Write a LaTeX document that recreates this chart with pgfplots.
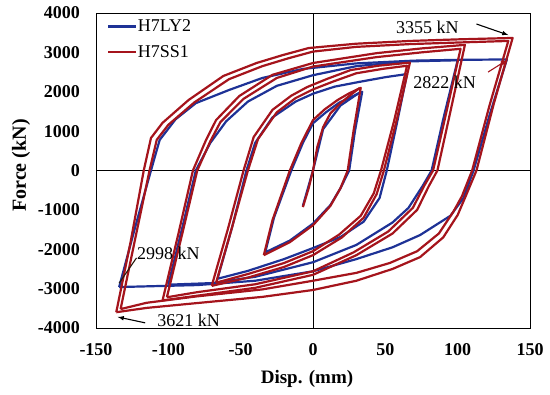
\documentclass[border=0pt]{standalone}
\usepackage{pgfplots}
\pgfplotsset{compat=1.18}
\usepackage{fontspec}
\setmainfont{Liberation Serif}
\definecolor{cblue}{RGB}{30,50,150}
\definecolor{cred}{RGB}{165,20,28}
\newcommand{\fs}{\fontsize{18}{20}\selectfont}
\begin{document}
\begin{tikzpicture}
\begin{axis}[name=ax,
  scale only axis, width=434pt, height=315pt,
  xmin=-150, xmax=150, ymin=-4000, ymax=4000,
  xtick={-150,-100,-50,0,50,100,150},
  xticklabels={-150,-100,-50,0,50,100,150},
  ytick={-4000,-3000,-2000,-1000,0,1000,2000,3000,4000},
  yticklabels={-4000,-3000,-2000,-1000,0,1000,2000,3000,4000},
  major tick length=0pt,
  axis line style={black, line width=0.9pt},
  tick label style={font=\fs\bfseries, inner sep=0pt},
  xticklabel style={anchor=north, yshift=-15pt},
  yticklabel style={anchor=east, xshift=-16pt},
  xlabel={Disp. (mm)}, ylabel={Force (kN)},
  xlabel style={font=\fontsize{19}{21}\selectfont\bfseries, at={([xshift=-6pt,yshift=-56pt]axis description cs:0.5,0)}, anchor=base},
  ylabel style={font=\fontsize{20}{22}\selectfont\bfseries, at={([xshift=-70pt,yshift=5pt]axis description cs:0,0.5)}, anchor=base},
  clip=false,
  legend style={draw=none, fill=none, at={(rel axis cs:0,1)}, anchor=north west,
    xshift=11pt, yshift=-6pt, font=\fs, inner sep=0pt, row sep=11pt,
    nodes={inner sep=0.5pt}},
  legend cell align=left,
  legend image code/.code={\draw[#1] (0pt,0pt) -- (28pt,0pt);},
  every axis plot/.append style={line join=round},
]
\draw[black, line width=0.9pt] (axis cs:-150,0) -- (axis cs:150,0);
\draw[black, line width=0.9pt] (axis cs:0,-4000) -- (axis cs:0,4000);

% H7LY2 (blue)
\addplot[cblue, line width=2.2pt] coordinates {
(-134,-2960) (-123,-1450) (-112,0) (-106,775) (-95,1300) (-81,1710) (-58,2045) (-35,2350) (-7,2580) (30,2720) (70,2790) (100,2810) (134,2820)
(122,1400) (111,0) (104,-700) (95,-1150) (74,-1640) (55,-1950) (30,-2250) (0,-2560) (-40,-2800) (-80,-2910) (-134,-2960)};
\addlegendentry{H7LY2}
% H7SS1 (red)
\addplot[cred, line width=2.2pt] coordinates {
(-136,-3600) (-126,-1800) (-117,0) (-112,825) (-104,1210) (-86,1790) (-62,2400) (-39,2730) (-21,2930) (-3,3110) (30,3220) (67,3290) (100,3330) (138,3366)
(125,1700) (113,0) (105,-700) (100,-1130) (90,-1700) (74,-2200) (55,-2500) (30,-2800) (0,-3035) (-35,-3210) (-81,-3370) (-115,-3490) (-136,-3600)};
\addlegendentry{H7SS1}

\addplot[cblue, line width=2.2pt, forget plot] coordinates {
(-7,-900) (0,0) (7,1050) (19,1650) (33,2000)};
\addplot[cblue, line width=2.2pt, forget plot] coordinates {
(-33,-2080) (-27,-1200) (-15,0) (-7,700) (0,1200) (9,1480) (18,1720) (34,2000)
(29,1000) (25,0) (19,-450) (12,-880) (0,-1350) (-16,-1780) (-33,-2080)};
\addplot[cblue, line width=2.2pt, forget plot] coordinates {
(-66,-2750) (-56,-1450) (-46,0) (-40,700) (-28,1350) (-12,1750) (0,1950) (15,2130) (32,2250) (50,2370) (65,2450)
(58,1200) (51,0) (46,-700) (35,-1300) (19,-1690) (0,-1970) (-20,-2250) (-45,-2550) (-66,-2750)};
\addplot[cblue, line width=2.2pt, forget plot] coordinates {
(-100,-2900) (-90,-1400) (-81,0) (-71,700) (-60,1250) (-45,1750) (-25,2150) (0,2420) (30,2650) (65,2770) (100,2800)
(90,1300) (82,0) (76,-380) (66,-950) (55,-1320) (30,-1890) (0,-2330) (-40,-2700) (-70,-2860) (-100,-2900)};

\addplot[cred, line width=2.2pt, forget plot] coordinates {
(-7,-930) (-3,-450) (0,0) (3,600) (7,1100) (12,1450) (19,1710) (26,1920) (32,2090)};
\addplot[cred, line width=2.2pt, forget plot] coordinates {
(-34,-2150) (-28,-1260) (-16,0) (-8,700) (0,1280) (8,1550) (17,1790) (25,1960) (33,2100)
(28,1000) (24,0) (19,-450) (12,-900) (0,-1390) (-16,-1820) (-34,-2150)};
\addplot[cred, line width=2.2pt, forget plot] coordinates {
(-70,-2930) (-59,-1510) (-48,0) (-41,850) (-28,1540) (-15,1900) (-4,2120) (10,2330) (26,2550) (45,2660) (67,2740)
(58,1300) (49,0) (44,-600) (35,-1200) (20,-1700) (0,-2150) (-20,-2450) (-45,-2720) (-70,-2930)};
\addplot[cred, line width=2.2pt, forget plot] coordinates {
(-67,-2850) (-56,-1450) (-45,0) (-38,800) (-25,1480) (-12,1840) (0,2060) (14,2260) (30,2470) (48,2580) (65,2660)
(56,1250) (47,0) (42,-580) (33,-1150) (18,-1630) (0,-2050) (-20,-2350) (-45,-2630) (-67,-2850)};
\addplot[cred, line width=2.2pt, forget plot] coordinates {
(-104,-3300) (-93,-1600) (-83,0) (-74,770) (-67,1280) (-51,1890) (-28,2430) (0,2730) (44,2980) (75,3100) (105,3190)
(95,1500) (86,0) (80,-400) (72,-1000) (55,-1600) (30,-2150) (0,-2650) (-40,-2980) (-80,-3180) (-104,-3300)};
\addplot[cred, line width=2.2pt, forget plot] coordinates {
(-101,-3220) (-90,-1550) (-80,0) (-71,740) (-64,1230) (-48,1820) (-25,2350) (0,2640) (44,2880) (75,3000) (102,3090)
(92,1450) (83,0) (77,-380) (69,-950) (52,-1550) (28,-2080) (0,-2560) (-40,-2890) (-80,-3090) (-101,-3220)};
\addplot[cred, line width=2.2pt, forget plot] coordinates {
(-133,-3520) (-123,-1750) (-113,0) (-108,780) (-100,1160) (-82,1730) (-58,2320) (-35,2650) (-17,2850) (0,3020) (30,3140) (67,3210) (100,3250) (135,3290)
(122,1650) (110,0) (103,-650) (97,-1050) (87,-1600) (72,-2050) (53,-2350) (30,-2600) (0,-2800) (-35,-3020) (-81,-3200) (-115,-3360) (-133,-3520)};

% annotations
\node[font=\fs, inner sep=0pt] at (axis cs:79,3645) {3355 kN};
\draw[black, line width=1.1pt, -latex] (axis cs:113,3720) -- (axis cs:135,3440);
\node[font=\fs, inner sep=0pt] at (axis cs:91,2250) {2822 kN};
\draw[cred, line width=1.1pt, -latex] (axis cs:121,2500) -- (axis cs:134,2800);
\node[font=\fs, inner sep=0pt] at (axis cs:-100,-2095) {2998 kN};
\draw[black!80!brown, line width=1.1pt] (axis cs:-122,-2220) -- (axis cs:-134,-2860);
\node[font=\fs, inner sep=0pt] at (axis cs:-86,-3800) {3621 kN};
\draw[black, line width=1.1pt, -latex] (axis cs:-116,-3870) -- (axis cs:-135,-3720);
\end{axis}
\pgfresetboundingbox
\path[use as bounding box] ([shift={(-96pt,-67pt)}]ax.south west) rectangle ([shift={(20pt,13pt)}]ax.north east);
\end{tikzpicture}
\end{document}
